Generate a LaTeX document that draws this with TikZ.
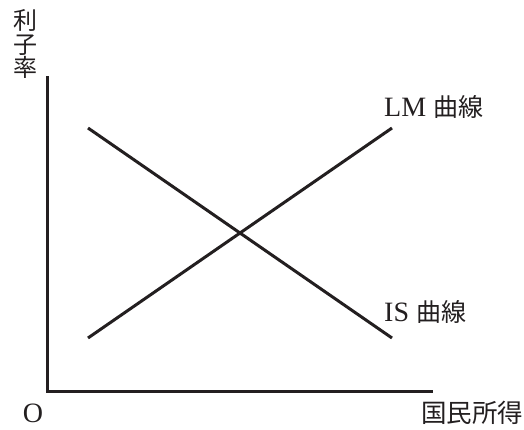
\documentclass[tikz,border=0pt]{standalone}
\usepackage{fontspec}
\setmainfont{Liberation Serif}
\newfontfamily\cjk{Noto Sans CJK JP}
\definecolor{ink}{HTML}{231F20}
\begin{document}
\begin{tikzpicture}[x=1pt,y=-1pt,
  axis/.style={draw=ink,line width=3pt},
  curve/.style={draw=ink,line width=3pt},
  lbl/.style={text=ink,inner sep=0pt,font=\fontsize{28}{28}\selectfont}]
\useasboundingbox (0,0) rectangle (524,429);
\coordinate (top) at (47,76);
\coordinate (o) at (47,391);
\coordinate (right) at (433,391);
\coordinate (is1) at (88,128);
\coordinate (is2) at (392,338);
\coordinate (lm1) at (88,338);
\coordinate (lm2) at (392,128);
\draw[axis,line cap=butt] (top) -- (o.center) -- (right);
\draw[curve] (is1) -- (is2);
\draw[curve] (lm1) -- (lm2);
\node[lbl,align=center,font=\fontsize{24}{23.5}\selectfont\cjk] (ylab) at (25,44) {利\\子\\率};
\node[lbl,font=\fontsize{28}{28}\selectfont] (olab) at (33,413) {O};
\node[lbl,font=\fontsize{25.5}{25.5}\selectfont\cjk] (xlab) at (472,413) {国民所得};
\node[lbl,anchor=west] (lmlab) at (384,107) {LM {\fontsize{25}{25}\selectfont\cjk 曲線}};
\node[lbl,anchor=west] (islab) at (384,312) {IS {\fontsize{25}{25}\selectfont\cjk 曲線}};
\end{tikzpicture}
\end{document}
